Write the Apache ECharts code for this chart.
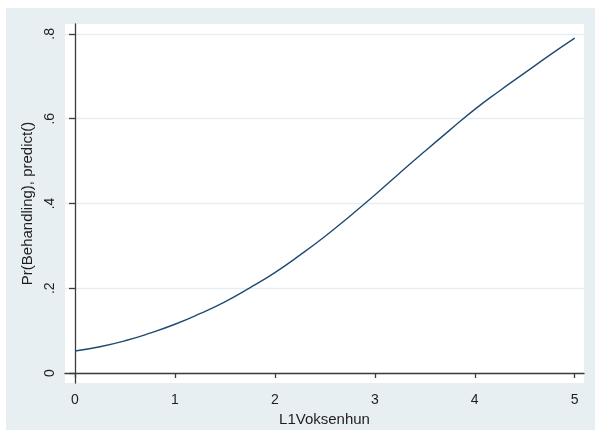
<!DOCTYPE html>
<html>
<head>
<meta charset="utf-8">
<script src="https://cdn.jsdelivr.net/npm/echarts@6/dist/echarts.min.js"></script>
<style>
html,body{margin:0;padding:0;background:#ffffff;}
#chart{width:595px;height:434px;}
</style>
</head>
<body>
<div id="chart"></div>
<script>
// Predicted probability
const xValues = [0, 0.25, 0.5, 0.75, 1.0, 1.25, 1.5, 1.75, 2.0, 2.25, 2.5, 2.75, 3.0, 3.25, 3.5, 3.75, 4.0, 4.25, 4.5, 4.75, 5.0];
const predValues = [0.052, 0.062, 0.076, 0.094, 0.115, 0.140, 0.168, 0.201, 0.237, 0.278, 0.322, 0.370, 0.420, 0.472, 0.523, 0.573, 0.622, 0.666, 0.708, 0.750, 0.790];
const xTicks = [0, 1, 2, 3, 4, 5];
const yTicks = [0, 0.2, 0.4, 0.6, 0.8];
const xTitle = 'L1Voksenhun';
const yTitle = 'Pr(Behandling), predict()';

const seriesData = xValues.map((x, i) => [x, predValues[i]]);

function yFmt(v) {
  if (Math.abs(v) < 1e-9) return '0';
  return '.' + Math.round(v * 10);
}

const chart = echarts.init(document.getElementById('chart'), null, {renderer: 'canvas'});
chart.setOption({
  animation: false,
  backgroundColor: '#ffffff',
  graphic: [
    {type: 'rect', z: -10, shape: {x: 6, y: 8, width: 589, height: 422}, style: {fill: '#e8eff2'}, silent: true}
  ],
  grid: {
    left: 65, right: 11, top: 24, bottom: 51,
    show: true, backgroundColor: '#ffffff', borderWidth: 0
  },
  xAxis: {
    type: 'value',
    min: -0.1, max: 5.093,
    axisLine: {show: true, lineStyle: {color: '#3c3c3c', width: 1.3}},
    axisTick: {show: true, customValues: xTicks, length: 5, lineStyle: {color: '#3c3c3c', width: 1.3}},
    axisLabel: {show: true, customValues: xTicks, formatter: v => String(v), fontFamily: 'Liberation Sans', fontSize: 14, color: '#1e1e1e', margin: 10},
    splitLine: {show: false},
    name: xTitle, nameLocation: 'middle', nameGap: 19,
    nameTextStyle: {fontFamily: 'Liberation Sans', fontSize: 15, color: '#1e1e1e'}
  },
  yAxis: {
    type: 'value',
    min: -0.0236, max: 0.8234,
    axisLine: {show: true, lineStyle: {color: '#3c3c3c', width: 1.3}},
    axisTick: {show: true, customValues: yTicks, length: 6, lineStyle: {color: '#3c3c3c', width: 1.3}},
    axisLabel: {show: true, customValues: yTicks, formatter: yFmt, rotate: 90, fontFamily: 'Liberation Sans', fontSize: 14, color: '#1e1e1e', margin: 8},
    splitLine: {show: true, lineStyle: {color: '#e6eef1', width: 1.3}},
    name: yTitle, nameLocation: 'middle', nameGap: 28,
    nameTextStyle: {fontFamily: 'Liberation Sans', fontSize: 15, color: '#1e1e1e'}
  },
  series: [{
    type: 'line',
    data: seriesData,
    smooth: true,
    showSymbol: false,
    lineStyle: {color: '#1f4b73', width: 1.4},
    z: 5
  }]
});
</script>
</body>
</html>
